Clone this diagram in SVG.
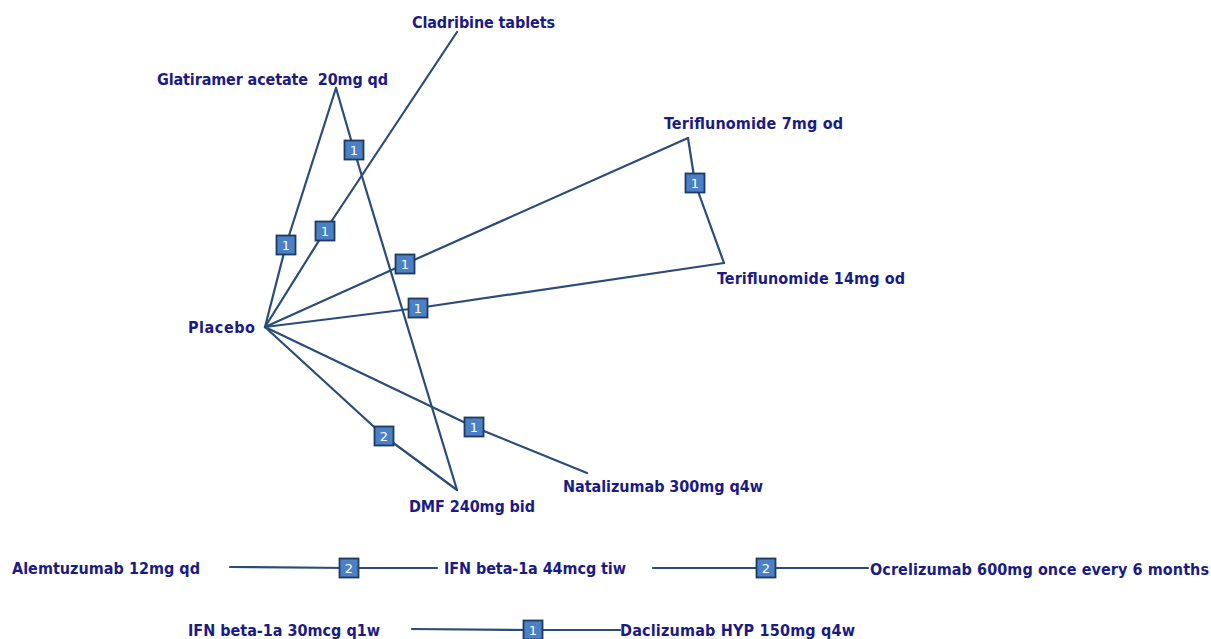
<svg xmlns="http://www.w3.org/2000/svg" width="1211" height="639" viewBox="0 0 1211 639">
  <style>
    .lbl { font-family: "DejaVu Sans Condensed", "DejaVu Sans", "Liberation Sans", sans-serif; font-weight: bold; font-size: 16px; fill: #1b1b86; white-space: pre; }
    .edge { fill: none; stroke: #2b4b78; stroke-width: 2.2; stroke-linejoin: round; stroke-linecap: round; }
    .box { fill: #4a80c4; stroke: #1e3a60; stroke-width: 1.8; }
    .num { font-family: "DejaVu Sans", "Liberation Sans", sans-serif; font-size: 13px; fill: #ffffff; text-anchor: middle; }
  </style>
  <rect width="1211" height="639" fill="#ffffff"/>

  <!-- connectors between treatments -->
  <g id="connectors">
    <polyline class="edge" points="265,327 286,245 336,88"/>
    <polyline class="edge" points="336,88 354,150 457,490"/>
    <polyline class="edge" points="265,327 325,231 457,32"/>
    <polyline class="edge" points="265,327 405,264 688,138"/>
    <polyline class="edge" points="265,327 418,308 724,263"/>
    <polyline class="edge" points="688,138 695,183 724,263"/>
    <polyline class="edge" points="265,327 384,436 457,490"/>
    <polyline class="edge" points="265,327 474,427 587,473"/>
    <polyline class="edge" points="230,567 349,568 437,568"/>
    <polyline class="edge" points="653,568 766,568 868,568"/>
    <polyline class="edge" points="412,629 533,630 620,630"/>
  </g>

  <!-- study-count badges on edges -->
  <g id="badges">
    <rect class="box" x="276.5" y="235.5" width="19" height="19"/><text class="num" x="286" y="249.5">1</text>
    <rect class="box" x="344.5" y="140.5" width="19" height="19"/><text class="num" x="354" y="154.5">1</text>
    <rect class="box" x="315.5" y="221.5" width="19" height="19"/><text class="num" x="325" y="235.5">1</text>
    <rect class="box" x="395.5" y="254.5" width="19" height="19"/><text class="num" x="405" y="268.5">1</text>
    <rect class="box" x="408.5" y="298.5" width="19" height="19"/><text class="num" x="418" y="312.5">1</text>
    <rect class="box" x="685.5" y="173.5" width="19" height="19"/><text class="num" x="695" y="187.5">1</text>
    <rect class="box" x="374.5" y="426.5" width="19" height="19"/><text class="num" x="384" y="440.5">2</text>
    <rect class="box" x="464.5" y="417.5" width="19" height="19"/><text class="num" x="474" y="431.5">1</text>
    <rect class="box" x="339.5" y="558.5" width="19" height="19"/><text class="num" x="349" y="572.5">2</text>
    <rect class="box" x="756.5" y="558.5" width="19" height="19"/><text class="num" x="766" y="572.5">2</text>
    <rect class="box" x="523.5" y="620.5" width="19" height="19"/><text class="num" x="533" y="634.5">1</text>
  </g>

  <!-- treatment nodes -->
  <g id="node-placebo"><text class="lbl" x="188" y="333" textLength="67">Placebo</text></g>
  <g id="node-glatiramer"><text class="lbl" x="157" y="85" textLength="231">Glatiramer acetate  20mg qd</text></g>
  <g id="node-cladribine"><text class="lbl" x="412" y="28" textLength="143">Cladribine tablets</text></g>
  <g id="node-teri7"><text class="lbl" x="664" y="129" textLength="179">Teriflunomide 7mg od</text></g>
  <g id="node-teri14"><text class="lbl" x="717" y="284" textLength="188">Teriflunomide 14mg od</text></g>
  <g id="node-natalizumab"><text class="lbl" x="563" y="492" textLength="200">Natalizumab 300mg q4w</text></g>
  <g id="node-dmf"><text class="lbl" x="409" y="512" textLength="126">DMF 240mg bid</text></g>
  <g id="node-alemtuzumab"><text class="lbl" x="12" y="574" textLength="188">Alemtuzumab 12mg qd</text></g>
  <g id="node-ifn44"><text class="lbl" x="444" y="574" textLength="182">IFN beta-1a 44mcg tiw</text></g>
  <g id="node-ocrelizumab"><text class="lbl" x="870" y="575" textLength="339">Ocrelizumab 600mg once every 6 months</text></g>
  <g id="node-ifn30"><text class="lbl" x="188" y="636" textLength="192">IFN beta-1a 30mcg q1w</text></g>
  <g id="node-daclizumab"><text class="lbl" x="620" y="636" textLength="235">Daclizumab HYP 150mg q4w</text></g>
</svg>
